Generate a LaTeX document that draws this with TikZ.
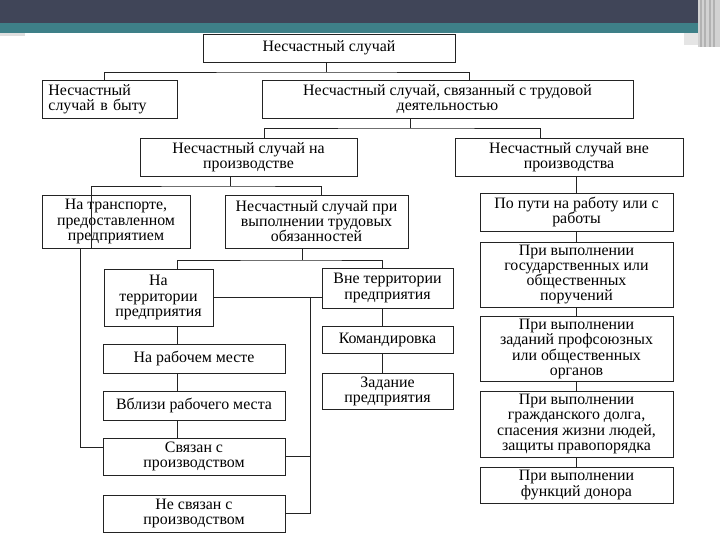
\documentclass[tikz,border=0pt]{standalone}
\usepackage{fontspec}
\setmainfont{Liberation Serif}
\usetikzlibrary{positioning, calc}

\definecolor{bandDark}{RGB}{64,69,88}
\definecolor{bandTeal}{RGB}{62,128,136}
\definecolor{boxLine}{RGB}{35,35,35}

\tikzset{
    box/.style 2 args = {shape = rectangle, draw = boxLine, line width = 0.7pt,
        minimum width = #1*0.025cm, minimum height = #2*0.025cm,
        inner sep = 2pt, align = center,
        font = \fontsize{11.3}{10.7}\selectfont},
    link/.style = {draw = boxLine, line width = 0.7pt}
}

\begin{document}
\begin{tikzpicture}[x = 0.025cm, y = -0.025cm]
                \useasboundingbox (0, 0) rectangle (720, 540);
                \fill [white] (0, 0) rectangle (720, 540);
                % header bands
                \fill [bandDark] (0, 0) rectangle (720, 23);
                \fill [bandTeal] (0, 23) rectangle (720, 33);
                \fill [gray!25] (0, 33) rectangle (25, 36);
                \fill [gray!35] (698, 0) rectangle (720, 47);
                \foreach \xs in {701, 705, 710, 714}
                    \draw [gray!60, line width = 0.8pt] (\xs, 0) -- (\xs, 47);
                \fill [gray!20] (684, 33) rectangle (698, 45);

                \node [box = {252}{28}] (acc) at (329, 48) {Несчастный случай};
                \node [box = {135}{38}, text width = 3.05cm, align = left] (home) at (109.5, 99) {Несчастный\\случай в быту};
                \node [box = {371}{38}] (labour) at (447.5, 99) {Несчастный случай, связанный с трудовой\\деятельностью};
                \node [box = {217}{38}] (prod) at (248.5, 157) {Несчастный случай на\\производстве};
                \node [box = {228}{38}] (outprod) at (569, 157) {Несчастный случай вне\\производства};
                \node [box = {148}{53}] (transp) at (116, 221.5) {На транспорте,\\предоставленном\\предприятием};
                \node [box = {183}{53}] (duties) at (316.5, 221.5) {Несчастный случай при\\выполнении трудовых\\обязанностей};
                \node [box = {109}{57}] (onsite) at (158.5, 297.5) {На\\территории\\предприятия};
                \node [box = {131}{40}] (offsite) at (387.5, 288) {Вне территории\\предприятия};
                \node [box = {131}{27}] (trip) at (387.5, 340) {Командировка};
                \node [box = {131}{36}] (task) at (387.5, 391) {Задание\\предприятия};
                \node [box = {182}{29}] (workpl) at (194, 358.5) {На рабочем месте};
                \node [box = {182}{29}] (near) at (194, 405.5) {Вблизи рабочего места};
                \node [box = {182}{37}] (linked) at (194, 456.5) {Связан с\\производством};
                \node [box = {182}{37}] (unlinked) at (194, 513.5) {Не связан с\\производством};
                \node [box = {193}{38}] (way) at (576.5, 212) {По пути на работу или с\\работы};
                \node [box = {193}{65}] (state) at (576.5, 274.5) {При выполнении\\государственных или\\общественных\\поручений};
                \node [box = {193}{64}] (union) at (576.5, 349) {При выполнении\\заданий профсоюзных\\или общественных\\органов};
                \node [box = {193}{66}] (civic) at (576.5, 424) {При выполнении\\гражданского долга,\\спасения жизни людей,\\защиты правопорядка};
                \node [box = {193}{36}] (donor) at (576.5, 485) {При выполнении\\функций донора};

                \coordinate (j1) at (326, 72);
                \coordinate (j2) at (410, 128);
                \coordinate (j3) at (230, 186);
                \coordinate (j4) at (302, 260);
                \coordinate (spineL) at (177, 260);
                \coordinate (spineR) at (382, 260);
                \coordinate (j5) at (310, 297.5);

                \draw [link] (acc.south -| j1) -- (j1);
                \draw [link] ($(home.north) + (-5, 0)$) |- (j1) -| ($(labour.north) + (22, 0)$);
                \draw [link] (labour.south -| j2) -- (j2);
                \draw [link] ($(prod.north) + (16, 0)$) |- (j2) -| ($(outprod.north) + (-29, 0)$);
                \draw [link] (prod.south -| j3) -- (j3);
                \draw [link] ($(transp.south) + (-25, 0)$) |- (j3) -| ($(duties.north) + (5, 0)$);
                \draw [link] (duties.south -| j4) -- (j4);
                \draw [link] (onsite.north -| spineL) |- (j4) -| (offsite.north -| spineR);
                \draw [link] (onsite.south -| spineL) -- (workpl.north -| spineL);
                \draw [link] (workpl.south -| spineL) -- (near.north -| spineL);
                \draw [link] (near.south -| spineL) -- (linked.north -| spineL);
                \draw [link] (offsite.south -| spineR) -- (trip.north -| spineR);
                \draw [link] (trip.south -| spineR) -- (task.north -| spineR);
                \draw [link] (onsite.east) -- (onsite.east -| offsite.west);
                \draw [link] (j5) |- (unlinked.east);
                \draw [link] (linked.east) -- (linked.east -| j5);
                \draw [link] ($(transp.south) + (-36, 0)$) |- ($(linked.west) + (0, -9)$);
                \draw [link] (outprod.south -| way.north) -- (way.north);
                \draw [link] (way.south) -- (state.north);
                \draw [link] (state.south) -- (union.north);
                \draw [link] (union.south) -- (civic.north);
                \draw [link] (civic.south) -- (donor.north);
\end{tikzpicture}
\end{document}
